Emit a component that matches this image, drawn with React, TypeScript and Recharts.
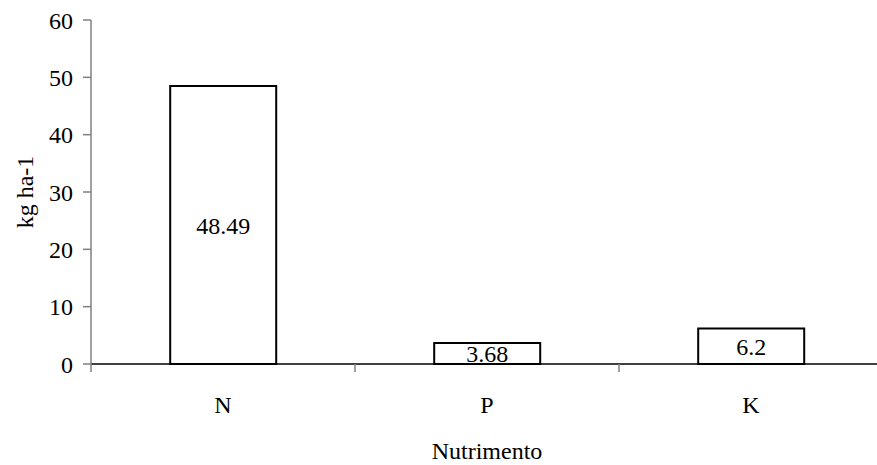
import { BarChart, Bar, XAxis, YAxis, LabelList } from 'recharts';

const nutrients = ['N', 'P', 'K'];
const amounts = [48.49, 3.68, 6.2];
const yTicks = [0, 10, 20, 30, 40, 50, 60];

const FONT = "'Liberation Serif', 'Times New Roman', serif";
const CHART_W = 883;
const CHART_H = 465;
const Y_AXIS_W = 91;
const BAND = (CHART_W - Y_AXIS_W) / nutrients.length;

const data = nutrients.map((name, i) => ({ name, value: amounts[i] }));

// category label plus a tick mark on the left boundary of each category
function NutrientTick(props: any) {
  const { x, y, payload } = props;
  const left = x - BAND / 2;
  return (
    <g>
      <line x1={left} y1={y} x2={left} y2={y + 8} stroke="#808080" strokeWidth={1.5} />
      <text x={x} y={y + 49} textAnchor="middle" fill="#000" fontSize={24} style={{ fontFamily: FONT }}>
        {payload.value}
      </text>
    </g>
  );
}

export default function App() {
  return (
    <div
      style={{
        position: 'fixed',
        left: 0,
        top: 0,
        width: 877,
        height: 465,
        overflow: 'hidden',
        background: '#fff',
        fontFamily: FONT,
      }}
    >
      <BarChart
        width={CHART_W}
        height={CHART_H}
        data={data}
        margin={{ top: 20, right: 0, bottom: 0, left: 0 }}
        barCategoryGap="30%"
        style={{ fontFamily: FONT }}
      >
        <XAxis
          dataKey="name"
          height={101}
          tickLine={false}
          tickSize={0}
          tickMargin={0}
          axisLine={{ stroke: '#000', strokeWidth: 1.5 }}
          tick={<NutrientTick />}
          interval={0}
          label={{
            value: 'Nutrimento',
            position: 'insideBottom',
            offset: 6,
            fill: '#000',
            fontSize: 24,
            style: { fontFamily: FONT },
          }}
        />
        <YAxis
          width={Y_AXIS_W}
          domain={[0, 60]}
          ticks={yTicks}
          interval={0}
          tickSize={8}
          tickMargin={10}
          axisLine={{ stroke: '#808080', strokeWidth: 1.5 }}
          tickLine={{ stroke: '#808080', strokeWidth: 1.5 }}
          tick={{ fill: '#000', fontSize: 24, style: { fontFamily: FONT } }}
          label={{
            value: 'kg ha-1',
            angle: -90,
            position: 'insideLeft',
            offset: 24,
            fill: '#000',
            fontSize: 24,
            style: { textAnchor: 'middle', fontFamily: FONT },
          }}
        />
        <Bar dataKey="value" fill="#fff" stroke="#000" strokeWidth={2} isAnimationActive={false}>
          <LabelList
            dataKey="value"
            position="center"
            fill="#000"
            fontSize={24}
            style={{ fontFamily: FONT }}
          />
        </Bar>
      </BarChart>
    </div>
  );
}
